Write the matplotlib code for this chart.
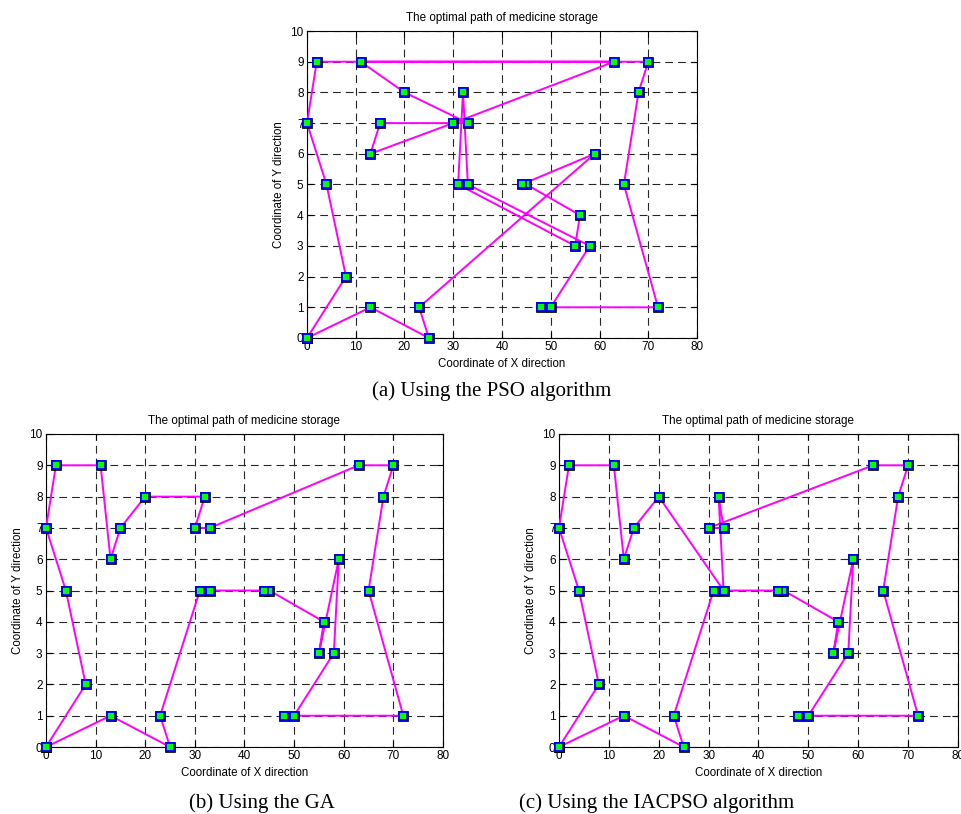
import numpy as np
import matplotlib
matplotlib.use("Agg")
import matplotlib.pyplot as plt

plt.rcParams['font.family'] = ['Liberation Sans', 'DejaVu Sans']

# route orders (x = X direction, y = Y direction)
pso_x = [0, 8, 4, 0, 2, 63, 30, 13, 15, 33, 20, 11, 70, 68, 65, 72, 48, 50, 58,
         33, 32, 31, 55, 56, 45, 44, 59, 23, 25, 13, 0]
pso_y = [0, 2, 5, 7, 9, 9, 7, 6, 7, 7, 8, 9, 9, 8, 5, 1, 1, 1, 3,
         5, 8, 5, 3, 4, 5, 5, 6, 1, 0, 1, 0]

ga_x = [0, 8, 4, 0, 2, 11, 13, 15, 20, 32, 30, 33, 63, 70, 68, 65, 72, 48, 50,
        58, 59, 55, 56, 45, 44, 33, 31, 23, 25, 13, 0]
ga_y = [0, 2, 5, 7, 9, 9, 6, 7, 8, 8, 7, 7, 9, 9, 8, 5, 1, 1, 1,
        3, 6, 3, 4, 5, 5, 5, 5, 1, 0, 1, 0]

iac_x = [0, 8, 4, 0, 2, 11, 13, 15, 20, 33, 32, 33, 30, 63, 70, 68, 65, 72, 48,
         50, 58, 59, 55, 56, 45, 44, 31, 23, 25, 13, 0]
iac_y = [0, 2, 5, 7, 9, 9, 6, 7, 8, 5, 8, 7, 7, 9, 9, 8, 5, 1, 1,
         1, 3, 6, 3, 4, 5, 5, 5, 1, 0, 1, 0]

xticks = list(range(0, 81, 10))
yticks = list(range(0, 11))

W, H = 962, 814
fig = plt.figure(figsize=(W / 100, H / 100), dpi=100)


def panel(rect, xs, ys):
    l, t, r, b = rect
    ax = fig.add_axes([l / W, 1 - b / H, (r - l) / W, (b - t) / H])
    ax.plot(xs, ys, '-', color='#ff00ff', lw=1.4, zorder=3)
    ax.plot(xs, ys, 's', ms=7.5, mfc='k', mec='k', mew=0.5, clip_on=False, zorder=4)
    ax.plot(xs, ys, 's', ms=5.3, mfc='#00ff00', mec='#0000ff', mew=1.3,
            clip_on=False, zorder=5)
    ax.set_xlim(0, 80)
    ax.set_ylim(0, 10)
    ax.set_xticks(xticks)
    ax.set_yticks(yticks)
    ax.grid(True, color='0.15', lw=0.8, dashes=(7, 4.5))
    ax.tick_params(direction='in', length=4, width=0.8, top=True, right=True,
                   labelsize=8.5, pad=2.5)
    for s in ax.spines.values():
        s.set_linewidth(0.8)
    ax.set_title('The optimal path of medicine storage', fontsize=8.4, pad=7)
    ax.set_xlabel('Coordinate of X direction', fontsize=8.3, labelpad=3)
    ax.set_ylabel('Coordinate of Y direction', fontsize=8.3, labelpad=3.5)
    return ax


panel((307, 31, 697, 338), pso_x, pso_y)
panel((46, 434, 443, 747), ga_x, ga_y)
panel((559, 434, 958, 747), iac_x, iac_y)

cap = dict(fontsize=15, family='Liberation Serif', ha='center', va='center')
fig.text(492 / W, 1 - 391 / H, '(a) Using the PSO algorithm', **cap)
fig.text(262 / W, 1 - 803 / H, '(b) Using the GA', **cap)
fig.text(657 / W, 1 - 803 / H, '(c) Using the IACPSO algorithm', **cap)

fig.savefig('out.png', dpi=100)
